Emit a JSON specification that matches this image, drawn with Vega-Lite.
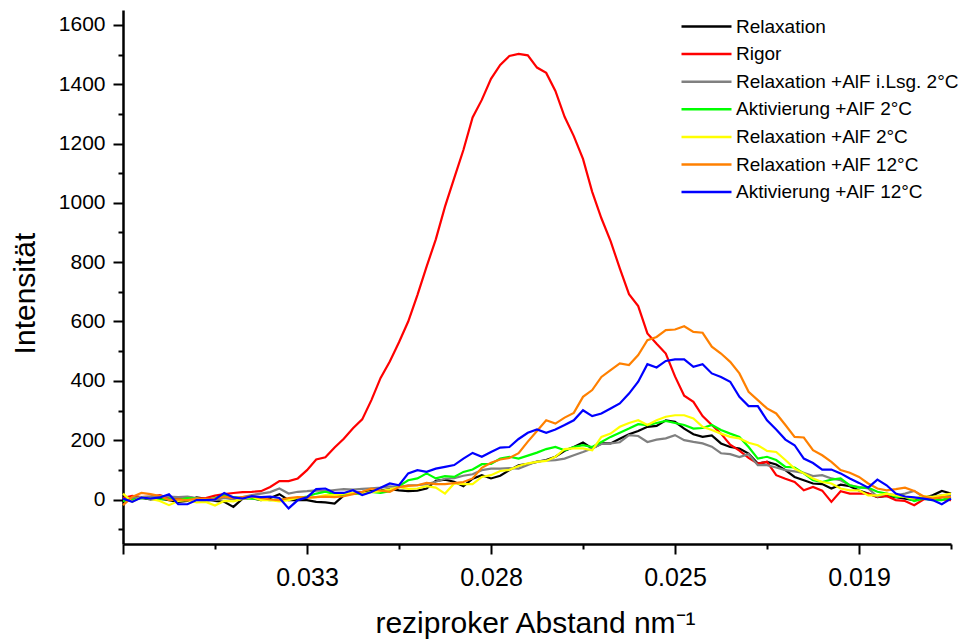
{
"$schema": "https://vega.github.io/schema/vega-lite/v6.json",
"width": 828,
"height": 534,
"autosize": {"type": "none"},
"padding": {"left": 123, "top": 10, "right": 18, "bottom": 96},
"background": "white",
"config": {
  "view": {"stroke": null},
  "font": "Liberation Sans",
  "axis": {"grid": false, "domainColor": "black", "tickColor": "black", "labelColor": "black", "titleColor": "black", "labelFont": "Liberation Sans", "titleFont": "Liberation Sans", "titleFontWeight": "normal", "domainWidth": 2.5, "tickWidth": 2, "labelOverlap": false, "labelFlush": false}
},
"data": {"values": [
{"x":0,"y":3,"serie":"Relaxation"},{"x":1,"y":0,"serie":"Relaxation"},{"x":2,"y":5,"serie":"Relaxation"},{"x":3,"y":0,"serie":"Relaxation"},{"x":4,"y":3,"serie":"Relaxation"},{"x":5,"y":-2,"serie":"Relaxation"},{"x":6,"y":-8,"serie":"Relaxation"},{"x":7,"y":-5,"serie":"Relaxation"},{"x":8,"y":7,"serie":"Relaxation"},{"x":9,"y":2,"serie":"Relaxation"},
{"x":10,"y":-5,"serie":"Relaxation"},{"x":11,"y":-8,"serie":"Relaxation"},{"x":12,"y":-25,"serie":"Relaxation"},{"x":13,"y":3,"serie":"Relaxation"},{"x":14,"y":5,"serie":"Relaxation"},{"x":15,"y":-2,"serie":"Relaxation"},{"x":16,"y":5,"serie":"Relaxation"},{"x":17,"y":18,"serie":"Relaxation"},{"x":18,"y":-2,"serie":"Relaxation"},{"x":19,"y":-2,"serie":"Relaxation"},
{"x":20,"y":-2,"serie":"Relaxation"},{"x":21,"y":-8,"serie":"Relaxation"},{"x":22,"y":-10,"serie":"Relaxation"},{"x":23,"y":-14,"serie":"Relaxation"},{"x":24,"y":14,"serie":"Relaxation"},{"x":25,"y":22,"serie":"Relaxation"},{"x":26,"y":25,"serie":"Relaxation"},{"x":27,"y":28,"serie":"Relaxation"},{"x":28,"y":30,"serie":"Relaxation"},{"x":29,"y":35,"serie":"Relaxation"},
{"x":30,"y":31,"serie":"Relaxation"},{"x":31,"y":28,"serie":"Relaxation"},{"x":32,"y":30,"serie":"Relaxation"},{"x":33,"y":37,"serie":"Relaxation"},{"x":34,"y":63,"serie":"Relaxation"},{"x":35,"y":67,"serie":"Relaxation"},{"x":36,"y":60,"serie":"Relaxation"},{"x":37,"y":45,"serie":"Relaxation"},{"x":38,"y":70,"serie":"Relaxation"},{"x":39,"y":82,"serie":"Relaxation"},
{"x":40,"y":71,"serie":"Relaxation"},{"x":41,"y":80,"serie":"Relaxation"},{"x":42,"y":99,"serie":"Relaxation"},{"x":43,"y":115,"serie":"Relaxation"},{"x":44,"y":120,"serie":"Relaxation"},{"x":45,"y":127,"serie":"Relaxation"},{"x":46,"y":133,"serie":"Relaxation"},{"x":47,"y":144,"serie":"Relaxation"},{"x":48,"y":164,"serie":"Relaxation"},{"x":49,"y":177,"serie":"Relaxation"},
{"x":50,"y":192,"serie":"Relaxation"},{"x":51,"y":172,"serie":"Relaxation"},{"x":52,"y":189,"serie":"Relaxation"},{"x":53,"y":189,"serie":"Relaxation"},{"x":54,"y":205,"serie":"Relaxation"},{"x":55,"y":220,"serie":"Relaxation"},{"x":56,"y":231,"serie":"Relaxation"},{"x":57,"y":245,"serie":"Relaxation"},{"x":58,"y":248,"serie":"Relaxation"},{"x":59,"y":267,"serie":"Relaxation"},
{"x":60,"y":262,"serie":"Relaxation"},{"x":61,"y":239,"serie":"Relaxation"},{"x":62,"y":220,"serie":"Relaxation"},{"x":63,"y":211,"serie":"Relaxation"},{"x":64,"y":216,"serie":"Relaxation"},{"x":65,"y":189,"serie":"Relaxation"},{"x":66,"y":177,"serie":"Relaxation"},{"x":67,"y":172,"serie":"Relaxation"},{"x":68,"y":155,"serie":"Relaxation"},{"x":69,"y":121,"serie":"Relaxation"},
{"x":70,"y":127,"serie":"Relaxation"},{"x":71,"y":118,"serie":"Relaxation"},{"x":72,"y":99,"serie":"Relaxation"},{"x":73,"y":76,"serie":"Relaxation"},{"x":74,"y":65,"serie":"Relaxation"},{"x":75,"y":54,"serie":"Relaxation"},{"x":76,"y":52,"serie":"Relaxation"},{"x":77,"y":37,"serie":"Relaxation"},{"x":78,"y":50,"serie":"Relaxation"},{"x":79,"y":45,"serie":"Relaxation"},
{"x":80,"y":30,"serie":"Relaxation"},{"x":81,"y":20,"serie":"Relaxation"},{"x":82,"y":8,"serie":"Relaxation"},{"x":83,"y":12,"serie":"Relaxation"},{"x":84,"y":8,"serie":"Relaxation"},{"x":85,"y":3,"serie":"Relaxation"},{"x":86,"y":-2,"serie":"Relaxation"},{"x":87,"y":5,"serie":"Relaxation"},{"x":88,"y":14,"serie":"Relaxation"},{"x":89,"y":29,"serie":"Relaxation"},{"x":90,"y":20,"serie":"Relaxation"},

{"x":0,"y":5,"serie":"Rigor"},{"x":1,"y":12,"serie":"Rigor"},{"x":2,"y":8,"serie":"Rigor"},{"x":3,"y":10,"serie":"Rigor"},{"x":4,"y":15,"serie":"Rigor"},{"x":5,"y":5,"serie":"Rigor"},{"x":6,"y":3,"serie":"Rigor"},{"x":7,"y":8,"serie":"Rigor"},{"x":8,"y":3,"serie":"Rigor"},{"x":9,"y":5,"serie":"Rigor"},
{"x":10,"y":13,"serie":"Rigor"},{"x":11,"y":18,"serie":"Rigor"},{"x":12,"y":22,"serie":"Rigor"},{"x":13,"y":25,"serie":"Rigor"},{"x":14,"y":26,"serie":"Rigor"},{"x":15,"y":28,"serie":"Rigor"},{"x":16,"y":42,"serie":"Rigor"},{"x":17,"y":62,"serie":"Rigor"},{"x":18,"y":62,"serie":"Rigor"},{"x":19,"y":71,"serie":"Rigor"},
{"x":20,"y":99,"serie":"Rigor"},{"x":21,"y":135,"serie":"Rigor"},{"x":22,"y":142,"serie":"Rigor"},{"x":23,"y":175,"serie":"Rigor"},{"x":24,"y":205,"serie":"Rigor"},{"x":25,"y":240,"serie":"Rigor"},{"x":26,"y":270,"serie":"Rigor"},{"x":27,"y":335,"serie":"Rigor"},{"x":28,"y":410,"serie":"Rigor"},{"x":29,"y":465,"serie":"Rigor"},
{"x":30,"y":530,"serie":"Rigor"},{"x":31,"y":600,"serie":"Rigor"},{"x":32,"y":689,"serie":"Rigor"},{"x":33,"y":785,"serie":"Rigor"},{"x":34,"y":877,"serie":"Rigor"},{"x":35,"y":987,"serie":"Rigor"},{"x":36,"y":1083,"serie":"Rigor"},{"x":37,"y":1178,"serie":"Rigor"},{"x":38,"y":1288,"serie":"Rigor"},{"x":39,"y":1347,"serie":"Rigor"},
{"x":40,"y":1418,"serie":"Rigor"},{"x":41,"y":1465,"serie":"Rigor"},{"x":42,"y":1495,"serie":"Rigor"},{"x":43,"y":1502,"serie":"Rigor"},{"x":44,"y":1497,"serie":"Rigor"},{"x":45,"y":1456,"serie":"Rigor"},{"x":46,"y":1438,"serie":"Rigor"},{"x":47,"y":1377,"serie":"Rigor"},{"x":48,"y":1290,"serie":"Rigor"},{"x":49,"y":1225,"serie":"Rigor"},
{"x":50,"y":1148,"serie":"Rigor"},{"x":51,"y":1037,"serie":"Rigor"},{"x":52,"y":948,"serie":"Rigor"},{"x":53,"y":871,"serie":"Rigor"},{"x":54,"y":779,"serie":"Rigor"},{"x":55,"y":692,"serie":"Rigor"},{"x":56,"y":652,"serie":"Rigor"},{"x":57,"y":560,"serie":"Rigor"},{"x":58,"y":525,"serie":"Rigor"},{"x":59,"y":492,"serie":"Rigor"},
{"x":60,"y":415,"serie":"Rigor"},{"x":61,"y":350,"serie":"Rigor"},{"x":62,"y":329,"serie":"Rigor"},{"x":63,"y":281,"serie":"Rigor"},{"x":64,"y":251,"serie":"Rigor"},{"x":65,"y":222,"serie":"Rigor"},{"x":66,"y":185,"serie":"Rigor"},{"x":67,"y":165,"serie":"Rigor"},{"x":68,"y":140,"serie":"Rigor"},{"x":69,"y":121,"serie":"Rigor"},
{"x":70,"y":127,"serie":"Rigor"},{"x":71,"y":82,"serie":"Rigor"},{"x":72,"y":70,"serie":"Rigor"},{"x":73,"y":59,"serie":"Rigor"},{"x":74,"y":31,"serie":"Rigor"},{"x":75,"y":42,"serie":"Rigor"},{"x":76,"y":30,"serie":"Rigor"},{"x":77,"y":-8,"serie":"Rigor"},{"x":78,"y":28,"serie":"Rigor"},{"x":79,"y":20,"serie":"Rigor"},
{"x":80,"y":20,"serie":"Rigor"},{"x":81,"y":20,"serie":"Rigor"},{"x":82,"y":9,"serie":"Rigor"},{"x":83,"y":12,"serie":"Rigor"},{"x":84,"y":-2,"serie":"Rigor"},{"x":85,"y":-5,"serie":"Rigor"},{"x":86,"y":-19,"serie":"Rigor"},{"x":87,"y":0,"serie":"Rigor"},{"x":88,"y":5,"serie":"Rigor"},{"x":89,"y":0,"serie":"Rigor"},{"x":90,"y":-2,"serie":"Rigor"},

{"x":0,"y":0,"serie":"Relaxation +AlF i.Lsg. 2°C"},{"x":1,"y":5,"serie":"Relaxation +AlF i.Lsg. 2°C"},{"x":2,"y":8,"serie":"Relaxation +AlF i.Lsg. 2°C"},{"x":3,"y":10,"serie":"Relaxation +AlF i.Lsg. 2°C"},{"x":4,"y":12,"serie":"Relaxation +AlF i.Lsg. 2°C"},{"x":5,"y":10,"serie":"Relaxation +AlF i.Lsg. 2°C"},{"x":6,"y":8,"serie":"Relaxation +AlF i.Lsg. 2°C"},{"x":7,"y":10,"serie":"Relaxation +AlF i.Lsg. 2°C"},{"x":8,"y":5,"serie":"Relaxation +AlF i.Lsg. 2°C"},{"x":9,"y":-5,"serie":"Relaxation +AlF i.Lsg. 2°C"},
{"x":10,"y":-2,"serie":"Relaxation +AlF i.Lsg. 2°C"},{"x":11,"y":5,"serie":"Relaxation +AlF i.Lsg. 2°C"},{"x":12,"y":0,"serie":"Relaxation +AlF i.Lsg. 2°C"},{"x":13,"y":8,"serie":"Relaxation +AlF i.Lsg. 2°C"},{"x":14,"y":15,"serie":"Relaxation +AlF i.Lsg. 2°C"},{"x":15,"y":20,"serie":"Relaxation +AlF i.Lsg. 2°C"},{"x":16,"y":25,"serie":"Relaxation +AlF i.Lsg. 2°C"},{"x":17,"y":37,"serie":"Relaxation +AlF i.Lsg. 2°C"},{"x":18,"y":20,"serie":"Relaxation +AlF i.Lsg. 2°C"},{"x":19,"y":26,"serie":"Relaxation +AlF i.Lsg. 2°C"},
{"x":20,"y":28,"serie":"Relaxation +AlF i.Lsg. 2°C"},{"x":21,"y":31,"serie":"Relaxation +AlF i.Lsg. 2°C"},{"x":22,"y":28,"serie":"Relaxation +AlF i.Lsg. 2°C"},{"x":23,"y":32,"serie":"Relaxation +AlF i.Lsg. 2°C"},{"x":24,"y":35,"serie":"Relaxation +AlF i.Lsg. 2°C"},{"x":25,"y":33,"serie":"Relaxation +AlF i.Lsg. 2°C"},{"x":26,"y":36,"serie":"Relaxation +AlF i.Lsg. 2°C"},{"x":27,"y":38,"serie":"Relaxation +AlF i.Lsg. 2°C"},{"x":28,"y":40,"serie":"Relaxation +AlF i.Lsg. 2°C"},{"x":29,"y":44,"serie":"Relaxation +AlF i.Lsg. 2°C"},
{"x":30,"y":42,"serie":"Relaxation +AlF i.Lsg. 2°C"},{"x":31,"y":48,"serie":"Relaxation +AlF i.Lsg. 2°C"},{"x":32,"y":48,"serie":"Relaxation +AlF i.Lsg. 2°C"},{"x":33,"y":52,"serie":"Relaxation +AlF i.Lsg. 2°C"},{"x":34,"y":60,"serie":"Relaxation +AlF i.Lsg. 2°C"},{"x":35,"y":70,"serie":"Relaxation +AlF i.Lsg. 2°C"},{"x":36,"y":72,"serie":"Relaxation +AlF i.Lsg. 2°C"},{"x":37,"y":80,"serie":"Relaxation +AlF i.Lsg. 2°C"},{"x":38,"y":85,"serie":"Relaxation +AlF i.Lsg. 2°C"},{"x":39,"y":99,"serie":"Relaxation +AlF i.Lsg. 2°C"},
{"x":40,"y":104,"serie":"Relaxation +AlF i.Lsg. 2°C"},{"x":41,"y":104,"serie":"Relaxation +AlF i.Lsg. 2°C"},{"x":42,"y":106,"serie":"Relaxation +AlF i.Lsg. 2°C"},{"x":43,"y":104,"serie":"Relaxation +AlF i.Lsg. 2°C"},{"x":44,"y":116,"serie":"Relaxation +AlF i.Lsg. 2°C"},{"x":45,"y":129,"serie":"Relaxation +AlF i.Lsg. 2°C"},{"x":46,"y":131,"serie":"Relaxation +AlF i.Lsg. 2°C"},{"x":47,"y":133,"serie":"Relaxation +AlF i.Lsg. 2°C"},{"x":48,"y":138,"serie":"Relaxation +AlF i.Lsg. 2°C"},{"x":49,"y":149,"serie":"Relaxation +AlF i.Lsg. 2°C"},
{"x":50,"y":160,"serie":"Relaxation +AlF i.Lsg. 2°C"},{"x":51,"y":172,"serie":"Relaxation +AlF i.Lsg. 2°C"},{"x":52,"y":187,"serie":"Relaxation +AlF i.Lsg. 2°C"},{"x":53,"y":189,"serie":"Relaxation +AlF i.Lsg. 2°C"},{"x":54,"y":193,"serie":"Relaxation +AlF i.Lsg. 2°C"},{"x":55,"y":217,"serie":"Relaxation +AlF i.Lsg. 2°C"},{"x":56,"y":214,"serie":"Relaxation +AlF i.Lsg. 2°C"},{"x":57,"y":194,"serie":"Relaxation +AlF i.Lsg. 2°C"},{"x":58,"y":202,"serie":"Relaxation +AlF i.Lsg. 2°C"},{"x":59,"y":206,"serie":"Relaxation +AlF i.Lsg. 2°C"},
{"x":60,"y":217,"serie":"Relaxation +AlF i.Lsg. 2°C"},{"x":61,"y":200,"serie":"Relaxation +AlF i.Lsg. 2°C"},{"x":62,"y":194,"serie":"Relaxation +AlF i.Lsg. 2°C"},{"x":63,"y":189,"serie":"Relaxation +AlF i.Lsg. 2°C"},{"x":64,"y":178,"serie":"Relaxation +AlF i.Lsg. 2°C"},{"x":65,"y":156,"serie":"Relaxation +AlF i.Lsg. 2°C"},{"x":66,"y":153,"serie":"Relaxation +AlF i.Lsg. 2°C"},{"x":67,"y":143,"serie":"Relaxation +AlF i.Lsg. 2°C"},{"x":68,"y":153,"serie":"Relaxation +AlF i.Lsg. 2°C"},{"x":69,"y":116,"serie":"Relaxation +AlF i.Lsg. 2°C"},
{"x":70,"y":116,"serie":"Relaxation +AlF i.Lsg. 2°C"},{"x":71,"y":108,"serie":"Relaxation +AlF i.Lsg. 2°C"},{"x":72,"y":99,"serie":"Relaxation +AlF i.Lsg. 2°C"},{"x":73,"y":95,"serie":"Relaxation +AlF i.Lsg. 2°C"},{"x":74,"y":90,"serie":"Relaxation +AlF i.Lsg. 2°C"},{"x":75,"y":79,"serie":"Relaxation +AlF i.Lsg. 2°C"},{"x":76,"y":82,"serie":"Relaxation +AlF i.Lsg. 2°C"},{"x":77,"y":71,"serie":"Relaxation +AlF i.Lsg. 2°C"},{"x":78,"y":65,"serie":"Relaxation +AlF i.Lsg. 2°C"},{"x":79,"y":48,"serie":"Relaxation +AlF i.Lsg. 2°C"},
{"x":80,"y":42,"serie":"Relaxation +AlF i.Lsg. 2°C"},{"x":81,"y":37,"serie":"Relaxation +AlF i.Lsg. 2°C"},{"x":82,"y":10,"serie":"Relaxation +AlF i.Lsg. 2°C"},{"x":83,"y":20,"serie":"Relaxation +AlF i.Lsg. 2°C"},{"x":84,"y":14,"serie":"Relaxation +AlF i.Lsg. 2°C"},{"x":85,"y":20,"serie":"Relaxation +AlF i.Lsg. 2°C"},{"x":86,"y":29,"serie":"Relaxation +AlF i.Lsg. 2°C"},{"x":87,"y":8,"serie":"Relaxation +AlF i.Lsg. 2°C"},{"x":88,"y":10,"serie":"Relaxation +AlF i.Lsg. 2°C"},{"x":89,"y":14,"serie":"Relaxation +AlF i.Lsg. 2°C"},{"x":90,"y":14,"serie":"Relaxation +AlF i.Lsg. 2°C"},

{"x":0,"y":-5,"serie":"Aktivierung +AlF 2°C"},{"x":1,"y":-2,"serie":"Aktivierung +AlF 2°C"},{"x":2,"y":5,"serie":"Aktivierung +AlF 2°C"},{"x":3,"y":3,"serie":"Aktivierung +AlF 2°C"},{"x":4,"y":0,"serie":"Aktivierung +AlF 2°C"},{"x":5,"y":2,"serie":"Aktivierung +AlF 2°C"},{"x":6,"y":-2,"serie":"Aktivierung +AlF 2°C"},{"x":7,"y":5,"serie":"Aktivierung +AlF 2°C"},{"x":8,"y":3,"serie":"Aktivierung +AlF 2°C"},{"x":9,"y":-2,"serie":"Aktivierung +AlF 2°C"},
{"x":10,"y":5,"serie":"Aktivierung +AlF 2°C"},{"x":11,"y":14,"serie":"Aktivierung +AlF 2°C"},{"x":12,"y":8,"serie":"Aktivierung +AlF 2°C"},{"x":13,"y":5,"serie":"Aktivierung +AlF 2°C"},{"x":14,"y":3,"serie":"Aktivierung +AlF 2°C"},{"x":15,"y":0,"serie":"Aktivierung +AlF 2°C"},{"x":16,"y":-2,"serie":"Aktivierung +AlF 2°C"},{"x":17,"y":0,"serie":"Aktivierung +AlF 2°C"},{"x":18,"y":0,"serie":"Aktivierung +AlF 2°C"},{"x":19,"y":5,"serie":"Aktivierung +AlF 2°C"},
{"x":20,"y":10,"serie":"Aktivierung +AlF 2°C"},{"x":21,"y":20,"serie":"Aktivierung +AlF 2°C"},{"x":22,"y":26,"serie":"Aktivierung +AlF 2°C"},{"x":23,"y":18,"serie":"Aktivierung +AlF 2°C"},{"x":24,"y":15,"serie":"Aktivierung +AlF 2°C"},{"x":25,"y":20,"serie":"Aktivierung +AlF 2°C"},{"x":26,"y":18,"serie":"Aktivierung +AlF 2°C"},{"x":27,"y":26,"serie":"Aktivierung +AlF 2°C"},{"x":28,"y":22,"serie":"Aktivierung +AlF 2°C"},{"x":29,"y":28,"serie":"Aktivierung +AlF 2°C"},
{"x":30,"y":45,"serie":"Aktivierung +AlF 2°C"},{"x":31,"y":65,"serie":"Aktivierung +AlF 2°C"},{"x":32,"y":71,"serie":"Aktivierung +AlF 2°C"},{"x":33,"y":88,"serie":"Aktivierung +AlF 2°C"},{"x":34,"y":71,"serie":"Aktivierung +AlF 2°C"},{"x":35,"y":79,"serie":"Aktivierung +AlF 2°C"},{"x":36,"y":76,"serie":"Aktivierung +AlF 2°C"},{"x":37,"y":93,"serie":"Aktivierung +AlF 2°C"},{"x":38,"y":101,"serie":"Aktivierung +AlF 2°C"},{"x":39,"y":119,"serie":"Aktivierung +AlF 2°C"},
{"x":40,"y":120,"serie":"Aktivierung +AlF 2°C"},{"x":41,"y":138,"serie":"Aktivierung +AlF 2°C"},{"x":42,"y":144,"serie":"Aktivierung +AlF 2°C"},{"x":43,"y":138,"serie":"Aktivierung +AlF 2°C"},{"x":44,"y":148,"serie":"Aktivierung +AlF 2°C"},{"x":45,"y":158,"serie":"Aktivierung +AlF 2°C"},{"x":46,"y":170,"serie":"Aktivierung +AlF 2°C"},{"x":47,"y":177,"serie":"Aktivierung +AlF 2°C"},{"x":48,"y":166,"serie":"Aktivierung +AlF 2°C"},{"x":49,"y":177,"serie":"Aktivierung +AlF 2°C"},
{"x":50,"y":183,"serie":"Aktivierung +AlF 2°C"},{"x":51,"y":177,"serie":"Aktivierung +AlF 2°C"},{"x":52,"y":194,"serie":"Aktivierung +AlF 2°C"},{"x":53,"y":211,"serie":"Aktivierung +AlF 2°C"},{"x":54,"y":225,"serie":"Aktivierung +AlF 2°C"},{"x":55,"y":239,"serie":"Aktivierung +AlF 2°C"},{"x":56,"y":254,"serie":"Aktivierung +AlF 2°C"},{"x":57,"y":251,"serie":"Aktivierung +AlF 2°C"},{"x":58,"y":258,"serie":"Aktivierung +AlF 2°C"},{"x":59,"y":265,"serie":"Aktivierung +AlF 2°C"},
{"x":60,"y":258,"serie":"Aktivierung +AlF 2°C"},{"x":61,"y":251,"serie":"Aktivierung +AlF 2°C"},{"x":62,"y":239,"serie":"Aktivierung +AlF 2°C"},{"x":63,"y":241,"serie":"Aktivierung +AlF 2°C"},{"x":64,"y":251,"serie":"Aktivierung +AlF 2°C"},{"x":65,"y":234,"serie":"Aktivierung +AlF 2°C"},{"x":66,"y":222,"serie":"Aktivierung +AlF 2°C"},{"x":67,"y":211,"serie":"Aktivierung +AlF 2°C"},{"x":68,"y":177,"serie":"Aktivierung +AlF 2°C"},{"x":69,"y":138,"serie":"Aktivierung +AlF 2°C"},
{"x":70,"y":144,"serie":"Aktivierung +AlF 2°C"},{"x":71,"y":133,"serie":"Aktivierung +AlF 2°C"},{"x":72,"y":110,"serie":"Aktivierung +AlF 2°C"},{"x":73,"y":108,"serie":"Aktivierung +AlF 2°C"},{"x":74,"y":88,"serie":"Aktivierung +AlF 2°C"},{"x":75,"y":65,"serie":"Aktivierung +AlF 2°C"},{"x":76,"y":59,"serie":"Aktivierung +AlF 2°C"},{"x":77,"y":67,"serie":"Aktivierung +AlF 2°C"},{"x":78,"y":71,"serie":"Aktivierung +AlF 2°C"},{"x":79,"y":48,"serie":"Aktivierung +AlF 2°C"},
{"x":80,"y":40,"serie":"Aktivierung +AlF 2°C"},{"x":81,"y":40,"serie":"Aktivierung +AlF 2°C"},{"x":82,"y":26,"serie":"Aktivierung +AlF 2°C"},{"x":83,"y":20,"serie":"Aktivierung +AlF 2°C"},{"x":84,"y":9,"serie":"Aktivierung +AlF 2°C"},{"x":85,"y":9,"serie":"Aktivierung +AlF 2°C"},{"x":86,"y":-5,"serie":"Aktivierung +AlF 2°C"},{"x":87,"y":3,"serie":"Aktivierung +AlF 2°C"},{"x":88,"y":-2,"serie":"Aktivierung +AlF 2°C"},{"x":89,"y":-2,"serie":"Aktivierung +AlF 2°C"},{"x":90,"y":8,"serie":"Aktivierung +AlF 2°C"},

{"x":0,"y":20,"serie":"Relaxation +AlF 2°C"},{"x":1,"y":-8,"serie":"Relaxation +AlF 2°C"},{"x":2,"y":9,"serie":"Relaxation +AlF 2°C"},{"x":3,"y":2,"serie":"Relaxation +AlF 2°C"},{"x":4,"y":-5,"serie":"Relaxation +AlF 2°C"},{"x":5,"y":-19,"serie":"Relaxation +AlF 2°C"},{"x":6,"y":-5,"serie":"Relaxation +AlF 2°C"},{"x":7,"y":-2,"serie":"Relaxation +AlF 2°C"},{"x":8,"y":-10,"serie":"Relaxation +AlF 2°C"},{"x":9,"y":-8,"serie":"Relaxation +AlF 2°C"},
{"x":10,"y":-20,"serie":"Relaxation +AlF 2°C"},{"x":11,"y":-5,"serie":"Relaxation +AlF 2°C"},{"x":12,"y":-6,"serie":"Relaxation +AlF 2°C"},{"x":13,"y":2,"serie":"Relaxation +AlF 2°C"},{"x":14,"y":9,"serie":"Relaxation +AlF 2°C"},{"x":15,"y":-2,"serie":"Relaxation +AlF 2°C"},{"x":16,"y":-2,"serie":"Relaxation +AlF 2°C"},{"x":17,"y":-6,"serie":"Relaxation +AlF 2°C"},{"x":18,"y":-2,"serie":"Relaxation +AlF 2°C"},{"x":19,"y":7,"serie":"Relaxation +AlF 2°C"},
{"x":20,"y":5,"serie":"Relaxation +AlF 2°C"},{"x":21,"y":8,"serie":"Relaxation +AlF 2°C"},{"x":22,"y":15,"serie":"Relaxation +AlF 2°C"},{"x":23,"y":15,"serie":"Relaxation +AlF 2°C"},{"x":24,"y":20,"serie":"Relaxation +AlF 2°C"},{"x":25,"y":22,"serie":"Relaxation +AlF 2°C"},{"x":26,"y":20,"serie":"Relaxation +AlF 2°C"},{"x":27,"y":25,"serie":"Relaxation +AlF 2°C"},{"x":28,"y":28,"serie":"Relaxation +AlF 2°C"},{"x":29,"y":34,"serie":"Relaxation +AlF 2°C"},
{"x":30,"y":42,"serie":"Relaxation +AlF 2°C"},{"x":31,"y":36,"serie":"Relaxation +AlF 2°C"},{"x":32,"y":37,"serie":"Relaxation +AlF 2°C"},{"x":33,"y":45,"serie":"Relaxation +AlF 2°C"},{"x":34,"y":40,"serie":"Relaxation +AlF 2°C"},{"x":35,"y":20,"serie":"Relaxation +AlF 2°C"},{"x":36,"y":54,"serie":"Relaxation +AlF 2°C"},{"x":37,"y":52,"serie":"Relaxation +AlF 2°C"},{"x":38,"y":52,"serie":"Relaxation +AlF 2°C"},{"x":39,"y":76,"serie":"Relaxation +AlF 2°C"},
{"x":40,"y":82,"serie":"Relaxation +AlF 2°C"},{"x":41,"y":96,"serie":"Relaxation +AlF 2°C"},{"x":42,"y":100,"serie":"Relaxation +AlF 2°C"},{"x":43,"y":113,"serie":"Relaxation +AlF 2°C"},{"x":44,"y":122,"serie":"Relaxation +AlF 2°C"},{"x":45,"y":127,"serie":"Relaxation +AlF 2°C"},{"x":46,"y":130,"serie":"Relaxation +AlF 2°C"},{"x":47,"y":144,"serie":"Relaxation +AlF 2°C"},{"x":48,"y":170,"serie":"Relaxation +AlF 2°C"},{"x":49,"y":172,"serie":"Relaxation +AlF 2°C"},
{"x":50,"y":172,"serie":"Relaxation +AlF 2°C"},{"x":51,"y":166,"serie":"Relaxation +AlF 2°C"},{"x":52,"y":211,"serie":"Relaxation +AlF 2°C"},{"x":53,"y":222,"serie":"Relaxation +AlF 2°C"},{"x":54,"y":245,"serie":"Relaxation +AlF 2°C"},{"x":55,"y":258,"serie":"Relaxation +AlF 2°C"},{"x":56,"y":267,"serie":"Relaxation +AlF 2°C"},{"x":57,"y":251,"serie":"Relaxation +AlF 2°C"},{"x":58,"y":267,"serie":"Relaxation +AlF 2°C"},{"x":59,"y":279,"serie":"Relaxation +AlF 2°C"},
{"x":60,"y":284,"serie":"Relaxation +AlF 2°C"},{"x":61,"y":284,"serie":"Relaxation +AlF 2°C"},{"x":62,"y":273,"serie":"Relaxation +AlF 2°C"},{"x":63,"y":245,"serie":"Relaxation +AlF 2°C"},{"x":64,"y":234,"serie":"Relaxation +AlF 2°C"},{"x":65,"y":222,"serie":"Relaxation +AlF 2°C"},{"x":66,"y":211,"serie":"Relaxation +AlF 2°C"},{"x":67,"y":206,"serie":"Relaxation +AlF 2°C"},{"x":68,"y":191,"serie":"Relaxation +AlF 2°C"},{"x":69,"y":183,"serie":"Relaxation +AlF 2°C"},
{"x":70,"y":164,"serie":"Relaxation +AlF 2°C"},{"x":71,"y":160,"serie":"Relaxation +AlF 2°C"},{"x":72,"y":133,"serie":"Relaxation +AlF 2°C"},{"x":73,"y":104,"serie":"Relaxation +AlF 2°C"},{"x":74,"y":88,"serie":"Relaxation +AlF 2°C"},{"x":75,"y":71,"serie":"Relaxation +AlF 2°C"},{"x":76,"y":59,"serie":"Relaxation +AlF 2°C"},{"x":77,"y":54,"serie":"Relaxation +AlF 2°C"},{"x":78,"y":37,"serie":"Relaxation +AlF 2°C"},{"x":79,"y":31,"serie":"Relaxation +AlF 2°C"},
{"x":80,"y":31,"serie":"Relaxation +AlF 2°C"},{"x":81,"y":14,"serie":"Relaxation +AlF 2°C"},{"x":82,"y":14,"serie":"Relaxation +AlF 2°C"},{"x":83,"y":20,"serie":"Relaxation +AlF 2°C"},{"x":84,"y":14,"serie":"Relaxation +AlF 2°C"},{"x":85,"y":9,"serie":"Relaxation +AlF 2°C"},{"x":86,"y":3,"serie":"Relaxation +AlF 2°C"},{"x":87,"y":11,"serie":"Relaxation +AlF 2°C"},{"x":88,"y":8,"serie":"Relaxation +AlF 2°C"},{"x":89,"y":14,"serie":"Relaxation +AlF 2°C"},{"x":90,"y":20,"serie":"Relaxation +AlF 2°C"},

{"x":0,"y":-19,"serie":"Relaxation +AlF 12°C"},{"x":1,"y":9,"serie":"Relaxation +AlF 12°C"},{"x":2,"y":22,"serie":"Relaxation +AlF 12°C"},{"x":3,"y":18,"serie":"Relaxation +AlF 12°C"},{"x":4,"y":12,"serie":"Relaxation +AlF 12°C"},{"x":5,"y":-2,"serie":"Relaxation +AlF 12°C"},{"x":6,"y":0,"serie":"Relaxation +AlF 12°C"},{"x":7,"y":-2,"serie":"Relaxation +AlF 12°C"},{"x":8,"y":3,"serie":"Relaxation +AlF 12°C"},{"x":9,"y":2,"serie":"Relaxation +AlF 12°C"},
{"x":10,"y":3,"serie":"Relaxation +AlF 12°C"},{"x":11,"y":10,"serie":"Relaxation +AlF 12°C"},{"x":12,"y":5,"serie":"Relaxation +AlF 12°C"},{"x":13,"y":8,"serie":"Relaxation +AlF 12°C"},{"x":14,"y":11,"serie":"Relaxation +AlF 12°C"},{"x":15,"y":5,"serie":"Relaxation +AlF 12°C"},{"x":16,"y":0,"serie":"Relaxation +AlF 12°C"},{"x":17,"y":-2,"serie":"Relaxation +AlF 12°C"},{"x":18,"y":5,"serie":"Relaxation +AlF 12°C"},{"x":19,"y":8,"serie":"Relaxation +AlF 12°C"},
{"x":20,"y":6,"serie":"Relaxation +AlF 12°C"},{"x":21,"y":8,"serie":"Relaxation +AlF 12°C"},{"x":22,"y":10,"serie":"Relaxation +AlF 12°C"},{"x":23,"y":8,"serie":"Relaxation +AlF 12°C"},{"x":24,"y":11,"serie":"Relaxation +AlF 12°C"},{"x":25,"y":18,"serie":"Relaxation +AlF 12°C"},{"x":26,"y":26,"serie":"Relaxation +AlF 12°C"},{"x":27,"y":37,"serie":"Relaxation +AlF 12°C"},{"x":28,"y":30,"serie":"Relaxation +AlF 12°C"},{"x":29,"y":26,"serie":"Relaxation +AlF 12°C"},
{"x":30,"y":42,"serie":"Relaxation +AlF 12°C"},{"x":31,"y":46,"serie":"Relaxation +AlF 12°C"},{"x":32,"y":48,"serie":"Relaxation +AlF 12°C"},{"x":33,"y":56,"serie":"Relaxation +AlF 12°C"},{"x":34,"y":52,"serie":"Relaxation +AlF 12°C"},{"x":35,"y":52,"serie":"Relaxation +AlF 12°C"},{"x":36,"y":55,"serie":"Relaxation +AlF 12°C"},{"x":37,"y":59,"serie":"Relaxation +AlF 12°C"},{"x":38,"y":71,"serie":"Relaxation +AlF 12°C"},{"x":39,"y":107,"serie":"Relaxation +AlF 12°C"},
{"x":40,"y":124,"serie":"Relaxation +AlF 12°C"},{"x":41,"y":135,"serie":"Relaxation +AlF 12°C"},{"x":42,"y":140,"serie":"Relaxation +AlF 12°C"},{"x":43,"y":156,"serie":"Relaxation +AlF 12°C"},{"x":44,"y":195,"serie":"Relaxation +AlF 12°C"},{"x":45,"y":231,"serie":"Relaxation +AlF 12°C"},{"x":46,"y":267,"serie":"Relaxation +AlF 12°C"},{"x":47,"y":256,"serie":"Relaxation +AlF 12°C"},{"x":48,"y":276,"serie":"Relaxation +AlF 12°C"},{"x":49,"y":292,"serie":"Relaxation +AlF 12°C"},
{"x":50,"y":346,"serie":"Relaxation +AlF 12°C"},{"x":51,"y":369,"serie":"Relaxation +AlF 12°C"},{"x":52,"y":413,"serie":"Relaxation +AlF 12°C"},{"x":53,"y":436,"serie":"Relaxation +AlF 12°C"},{"x":54,"y":459,"serie":"Relaxation +AlF 12°C"},{"x":55,"y":453,"serie":"Relaxation +AlF 12°C"},{"x":56,"y":487,"serie":"Relaxation +AlF 12°C"},{"x":57,"y":537,"serie":"Relaxation +AlF 12°C"},{"x":58,"y":548,"serie":"Relaxation +AlF 12°C"},{"x":59,"y":571,"serie":"Relaxation +AlF 12°C"},
{"x":60,"y":573,"serie":"Relaxation +AlF 12°C"},{"x":61,"y":584,"serie":"Relaxation +AlF 12°C"},{"x":62,"y":565,"serie":"Relaxation +AlF 12°C"},{"x":63,"y":562,"serie":"Relaxation +AlF 12°C"},{"x":64,"y":515,"serie":"Relaxation +AlF 12°C"},{"x":65,"y":492,"serie":"Relaxation +AlF 12°C"},{"x":66,"y":464,"serie":"Relaxation +AlF 12°C"},{"x":67,"y":425,"serie":"Relaxation +AlF 12°C"},{"x":68,"y":363,"serie":"Relaxation +AlF 12°C"},{"x":69,"y":335,"serie":"Relaxation +AlF 12°C"},
{"x":70,"y":307,"serie":"Relaxation +AlF 12°C"},{"x":71,"y":290,"serie":"Relaxation +AlF 12°C"},{"x":72,"y":251,"serie":"Relaxation +AlF 12°C"},{"x":73,"y":211,"serie":"Relaxation +AlF 12°C"},{"x":74,"y":209,"serie":"Relaxation +AlF 12°C"},{"x":75,"y":166,"serie":"Relaxation +AlF 12°C"},{"x":76,"y":149,"serie":"Relaxation +AlF 12°C"},{"x":77,"y":127,"serie":"Relaxation +AlF 12°C"},{"x":78,"y":99,"serie":"Relaxation +AlF 12°C"},{"x":79,"y":90,"serie":"Relaxation +AlF 12°C"},
{"x":80,"y":76,"serie":"Relaxation +AlF 12°C"},{"x":81,"y":54,"serie":"Relaxation +AlF 12°C"},{"x":82,"y":37,"serie":"Relaxation +AlF 12°C"},{"x":83,"y":31,"serie":"Relaxation +AlF 12°C"},{"x":84,"y":35,"serie":"Relaxation +AlF 12°C"},{"x":85,"y":40,"serie":"Relaxation +AlF 12°C"},{"x":86,"y":29,"serie":"Relaxation +AlF 12°C"},{"x":87,"y":11,"serie":"Relaxation +AlF 12°C"},{"x":88,"y":3,"serie":"Relaxation +AlF 12°C"},{"x":89,"y":8,"serie":"Relaxation +AlF 12°C"},{"x":90,"y":8,"serie":"Relaxation +AlF 12°C"},

{"x":0,"y":3,"serie":"Aktivierung +AlF 12°C"},{"x":1,"y":-8,"serie":"Aktivierung +AlF 12°C"},{"x":2,"y":7,"serie":"Aktivierung +AlF 12°C"},{"x":3,"y":3,"serie":"Aktivierung +AlF 12°C"},{"x":4,"y":7,"serie":"Aktivierung +AlF 12°C"},{"x":5,"y":18,"serie":"Aktivierung +AlF 12°C"},{"x":6,"y":-16,"serie":"Aktivierung +AlF 12°C"},{"x":7,"y":-16,"serie":"Aktivierung +AlF 12°C"},{"x":8,"y":-2,"serie":"Aktivierung +AlF 12°C"},{"x":9,"y":-2,"serie":"Aktivierung +AlF 12°C"},
{"x":10,"y":0,"serie":"Aktivierung +AlF 12°C"},{"x":11,"y":22,"serie":"Aktivierung +AlF 12°C"},{"x":12,"y":7,"serie":"Aktivierung +AlF 12°C"},{"x":13,"y":3,"serie":"Aktivierung +AlF 12°C"},{"x":14,"y":11,"serie":"Aktivierung +AlF 12°C"},{"x":15,"y":8,"serie":"Aktivierung +AlF 12°C"},{"x":16,"y":10,"serie":"Aktivierung +AlF 12°C"},{"x":17,"y":5,"serie":"Aktivierung +AlF 12°C"},{"x":18,"y":-30,"serie":"Aktivierung +AlF 12°C"},{"x":19,"y":-2,"serie":"Aktivierung +AlF 12°C"},
{"x":20,"y":7,"serie":"Aktivierung +AlF 12°C"},{"x":21,"y":35,"serie":"Aktivierung +AlF 12°C"},{"x":22,"y":37,"serie":"Aktivierung +AlF 12°C"},{"x":23,"y":22,"serie":"Aktivierung +AlF 12°C"},{"x":24,"y":22,"serie":"Aktivierung +AlF 12°C"},{"x":25,"y":31,"serie":"Aktivierung +AlF 12°C"},{"x":26,"y":15,"serie":"Aktivierung +AlF 12°C"},{"x":27,"y":25,"serie":"Aktivierung +AlF 12°C"},{"x":28,"y":40,"serie":"Aktivierung +AlF 12°C"},{"x":29,"y":54,"serie":"Aktivierung +AlF 12°C"},
{"x":30,"y":48,"serie":"Aktivierung +AlF 12°C"},{"x":31,"y":88,"serie":"Aktivierung +AlF 12°C"},{"x":32,"y":99,"serie":"Aktivierung +AlF 12°C"},{"x":33,"y":93,"serie":"Aktivierung +AlF 12°C"},{"x":34,"y":104,"serie":"Aktivierung +AlF 12°C"},{"x":35,"y":110,"serie":"Aktivierung +AlF 12°C"},{"x":36,"y":116,"serie":"Aktivierung +AlF 12°C"},{"x":37,"y":138,"serie":"Aktivierung +AlF 12°C"},{"x":38,"y":157,"serie":"Aktivierung +AlF 12°C"},{"x":39,"y":144,"serie":"Aktivierung +AlF 12°C"},
{"x":40,"y":160,"serie":"Aktivierung +AlF 12°C"},{"x":41,"y":175,"serie":"Aktivierung +AlF 12°C"},{"x":42,"y":177,"serie":"Aktivierung +AlF 12°C"},{"x":43,"y":204,"serie":"Aktivierung +AlF 12°C"},{"x":44,"y":225,"serie":"Aktivierung +AlF 12°C"},{"x":45,"y":236,"serie":"Aktivierung +AlF 12°C"},{"x":46,"y":225,"serie":"Aktivierung +AlF 12°C"},{"x":47,"y":236,"serie":"Aktivierung +AlF 12°C"},{"x":48,"y":251,"serie":"Aktivierung +AlF 12°C"},{"x":49,"y":267,"serie":"Aktivierung +AlF 12°C"},
{"x":50,"y":301,"serie":"Aktivierung +AlF 12°C"},{"x":51,"y":281,"serie":"Aktivierung +AlF 12°C"},{"x":52,"y":290,"serie":"Aktivierung +AlF 12°C"},{"x":53,"y":307,"serie":"Aktivierung +AlF 12°C"},{"x":54,"y":324,"serie":"Aktivierung +AlF 12°C"},{"x":55,"y":357,"serie":"Aktivierung +AlF 12°C"},{"x":56,"y":397,"serie":"Aktivierung +AlF 12°C"},{"x":57,"y":456,"serie":"Aktivierung +AlF 12°C"},{"x":58,"y":445,"serie":"Aktivierung +AlF 12°C"},{"x":59,"y":467,"serie":"Aktivierung +AlF 12°C"},
{"x":60,"y":472,"serie":"Aktivierung +AlF 12°C"},{"x":61,"y":472,"serie":"Aktivierung +AlF 12°C"},{"x":62,"y":447,"serie":"Aktivierung +AlF 12°C"},{"x":63,"y":456,"serie":"Aktivierung +AlF 12°C"},{"x":64,"y":425,"serie":"Aktivierung +AlF 12°C"},{"x":65,"y":413,"serie":"Aktivierung +AlF 12°C"},{"x":66,"y":397,"serie":"Aktivierung +AlF 12°C"},{"x":67,"y":346,"serie":"Aktivierung +AlF 12°C"},{"x":68,"y":315,"serie":"Aktivierung +AlF 12°C"},{"x":69,"y":315,"serie":"Aktivierung +AlF 12°C"},
{"x":70,"y":267,"serie":"Aktivierung +AlF 12°C"},{"x":71,"y":236,"serie":"Aktivierung +AlF 12°C"},{"x":72,"y":202,"serie":"Aktivierung +AlF 12°C"},{"x":73,"y":183,"serie":"Aktivierung +AlF 12°C"},{"x":74,"y":138,"serie":"Aktivierung +AlF 12°C"},{"x":75,"y":123,"serie":"Aktivierung +AlF 12°C"},{"x":76,"y":101,"serie":"Aktivierung +AlF 12°C"},{"x":77,"y":101,"serie":"Aktivierung +AlF 12°C"},{"x":78,"y":88,"serie":"Aktivierung +AlF 12°C"},{"x":79,"y":71,"serie":"Aktivierung +AlF 12°C"},
{"x":80,"y":56,"serie":"Aktivierung +AlF 12°C"},{"x":81,"y":40,"serie":"Aktivierung +AlF 12°C"},{"x":82,"y":67,"serie":"Aktivierung +AlF 12°C"},{"x":83,"y":48,"serie":"Aktivierung +AlF 12°C"},{"x":84,"y":20,"serie":"Aktivierung +AlF 12°C"},{"x":85,"y":10,"serie":"Aktivierung +AlF 12°C"},{"x":86,"y":7,"serie":"Aktivierung +AlF 12°C"},{"x":87,"y":3,"serie":"Aktivierung +AlF 12°C"},{"x":88,"y":-2,"serie":"Aktivierung +AlF 12°C"},{"x":89,"y":-16,"serie":"Aktivierung +AlF 12°C"},{"x":90,"y":3,"serie":"Aktivierung +AlF 12°C"}
]},
"layer": [
  {
    "mark": {"type": "line", "strokeWidth": 2.2},
    "encoding": {
      "x": {"field": "x", "type": "quantitative", "scale": {"domain": [0, 90], "nice": false, "zero": false},
        "axis": {"orient": "bottom", "values": [0, 20, 40, 60, 80], "tickSize": 10, "labelExpr": "datum.value == 20 ? '0.033' : datum.value == 40 ? '0.028' : datum.value == 60 ? '0.025' : datum.value == 80 ? '0.019' : ''", "labelFontSize": 25, "labelPadding": 11, "labelDx": 14, "title": "reziproker Abstand nm⁻¹", "titleFontSize": 30, "titleX": 412, "titleY": 88, "titleBaseline": "alphabetic", "titleAlign": "center"}},
      "y": {"field": "y", "type": "quantitative", "scale": {"domain": [-150, 1650], "nice": false, "zero": false},
        "axis": {"orient": "left", "values": [0, 200, 400, 600, 800, 1000, 1200, 1400, 1600], "format": "d", "tickSize": 10, "labelFontSize": 21, "labelPadding": 8, "title": "Intensität", "titleFontSize": 30, "titleAngle": -90, "titleX": -89, "titleY": 283, "titleBaseline": "alphabetic", "titleAlign": "center"}},
      "color": {"field": "serie", "type": "nominal",
        "scale": {"domain": ["Relaxation", "Rigor", "Relaxation +AlF i.Lsg. 2°C", "Aktivierung +AlF 2°C", "Relaxation +AlF 2°C", "Relaxation +AlF 12°C", "Aktivierung +AlF 12°C"],
                  "range": ["#000000", "#ff0000", "#808080", "#00ff00", "#ffff00", "#ff8000", "#0000ff"]},
        "legend": {"orient": "none", "legendX": 557, "legendY": 7, "title": null, "symbolType": "stroke", "symbolSize": 2500, "symbolStrokeWidth": 2.5, "clipHeight": 19, "rowPadding": 7.6, "labelFontSize": 19, "labelFont": "Liberation Sans", "labelColor": "black", "labelOffset": 3, "labelLimit": 400, "padding": 0}}
    }
  },
  {
    "mark": {"type": "point", "opacity": 0},
    "encoding": {
      "x": {"field": "x", "type": "quantitative", "axis": {"orient": "bottom", "values": [10, 30, 50, 70, 90], "tickSize": 5, "labels": false, "domain": false, "title": null}},
      "y": {"field": "y", "type": "quantitative", "axis": {"orient": "left", "values": [-100, 100, 300, 500, 700, 900, 1100, 1300, 1500], "tickSize": 5, "labels": false, "domain": false, "title": null}}
    }
  }
],
"resolve": {"axis": {"x": "independent", "y": "independent"}}
}
